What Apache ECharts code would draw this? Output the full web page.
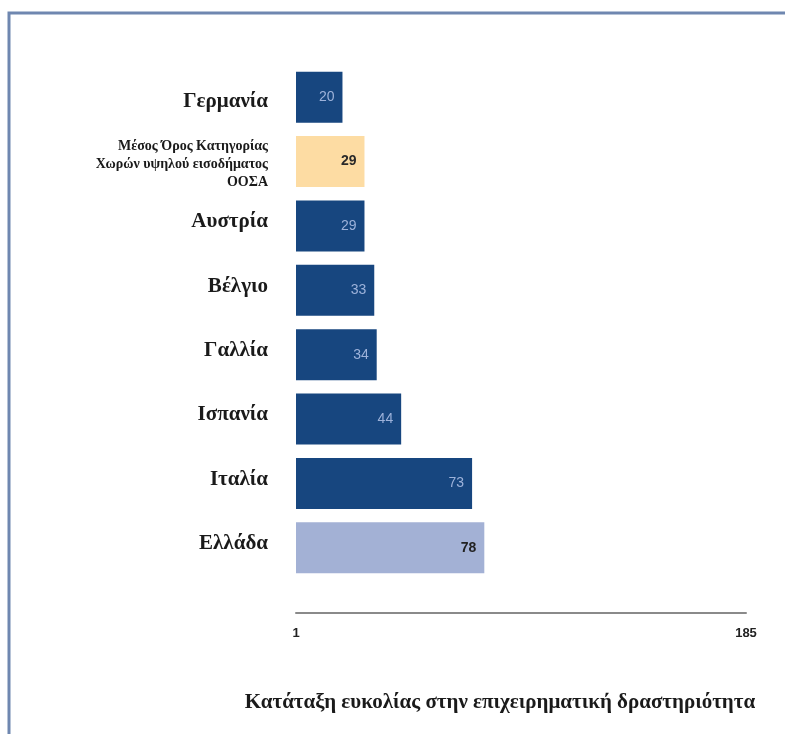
<!DOCTYPE html>
<html>
<head>
<meta charset="utf-8">
<script src="https://cdn.jsdelivr.net/npm/echarts@6/dist/echarts.min.js"></script>
<style>html,body{margin:0;padding:0;background:#fff;}#c{width:785px;height:734px;}</style>
</head>
<body>
<div id="c"></div>
<script>
const categories = ['Γερμανία', 'Μέσος Όρος Κατηγορίας\nΧωρών υψηλού εισοδήματος\nΟΟΣΑ', 'Αυστρία', 'Βέλγιο', 'Γαλλία', 'Ισπανία', 'Ιταλία', 'Ελλάδα'];
const values = [20, 29, 29, 33, 34, 44, 73, 78];
const axisMin = 1;
const axisMax = 185;
const axisTitle = 'Κατάταξη ευκολίας στην επιχειρηματική δραστηριότητα';

const chart = echarts.init(document.getElementById('c'));
function styleFor(i) {
  if (i === 1) return { bar: '#FDDCA3', label: '#2a2a2a', bold: 'bold' };
  if (i === 7) return { bar: '#A3B1D5', label: '#222222', bold: 'bold' };
  return { bar: '#17467F', label: '#9DB2DA', bold: 'normal' };
}
chart.setOption({
  animation: false,
  grid: { left: 296, right: 39, top: 65, height: 515 },
  xAxis: {
    type: 'value', min: axisMin, max: axisMax, interval: axisMax - axisMin,
    offset: 33,
    axisLine: { show: true, lineStyle: { color: '#8a8a8a', width: 2 } },
    axisTick: { show: false },
    splitLine: { show: false },
    axisLabel: { color: '#222', fontFamily: 'Liberation Sans Narrow, Liberation Sans, sans-serif', fontWeight: 'bold', fontSize: 13, margin: 14 }
  },
  yAxis: {
    type: 'category', data: categories, inverse: true,
    axisLine: { show: false }, axisTick: { show: false },
    axisLabel: {
      margin: 28,
      formatter: function (v, i) {
        if (i === 1) return '{s|' + v + '}';
        if (i === 0) return '{g|' + v + '}';
        return '{b|' + v + '}';
      },
      rich: {
        b: { fontFamily: 'Liberation Serif, serif', fontWeight: 'bold', fontSize: 21, color: '#1a1a1a', align: 'right', padding: [0, 0, 8, 0] },
        g: { fontFamily: 'Liberation Serif, serif', fontWeight: 'bold', fontSize: 21, color: '#1a1a1a', align: 'right', padding: [8, 0, 0, 0] },
        s: { fontFamily: 'Liberation Serif, serif', fontWeight: 'bold', fontSize: 14, lineHeight: 18, color: '#1a1a1a', align: 'right', padding: [6, 0, 0, 0] }
      }
    }
  },
  graphic: [
    { type: 'rect', shape: { x: 9, y: 13, width: 820, height: 800 }, style: { fill: 'none', stroke: '#6f87b0', lineWidth: 3 }, silent: true },
    { type: 'text', x: 500, y: 703, style: { text: axisTitle, textAlign: 'center', textVerticalAlign: 'middle', font: 'bold 21px "Liberation Serif", serif', fill: '#1a1a1a' } }
  ],
  series: [{
    type: 'bar', barWidth: 51,
    data: values.map(function (v, i) {
      const s = styleFor(i);
      return { value: v, itemStyle: { color: s.bar }, label: { color: s.label, fontWeight: s.bold } };
    }),
    label: {
      show: true, position: 'insideRight', distance: 8,
      fontFamily: 'Liberation Sans Narrow, Liberation Sans, sans-serif', fontSize: 14
    }
  }]
});
</script>
</body>
</html>
